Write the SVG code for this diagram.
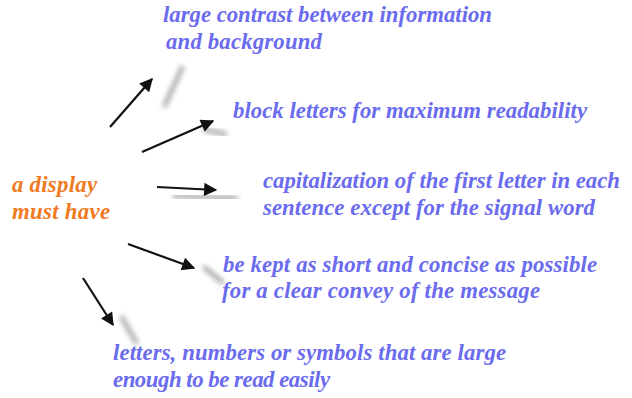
<svg xmlns="http://www.w3.org/2000/svg" width="632" height="398" viewBox="0 0 632 398">
<style>
.t{font-family:"Liberation Serif","Times New Roman",serif;font-weight:bold;font-style:italic;font-size:22.8px;fill:#6b6bee}
.o{font-family:"Liberation Serif","Times New Roman",serif;font-weight:bold;font-style:italic;font-size:22.8px;fill:#f07a22}
.a{stroke:#111;stroke-width:2.2;fill:none;marker-end:url(#ah)}
.s{stroke:#9a9a9a;stroke-width:5;fill:none;stroke-linecap:round;filter:url(#bl);opacity:0.8}
</style>
<defs>
<marker id="ah" viewBox="0 0 10 10" refX="9" refY="5" markerWidth="6.5" markerHeight="6" orient="auto" markerUnits="strokeWidth">
<path d="M0,0 L10,5 L0,10 Z" fill="#111"/>
</marker>
<filter id="bl" x="-50%" y="-50%" width="200%" height="200%"><feGaussianBlur stdDeviation="2.5"/></filter>
</defs>
<rect width="632" height="398" fill="#fff"/>
<g id="shadows">
<path class="s" d="M165,105 L182,68"/>
<path class="s" d="M205,130 L225,134"/>
<path class="s" d="M175,196 L236,198"/>
<path class="s" d="M205,268 L222,282"/>
<path class="s" d="M122,318 L136,342"/>
</g>
<g id="connectors">
<path class="a" d="M110,127 L152,79"/>
<path class="a" d="M142,152 L213,121"/>
<path class="a" d="M157,187 L216,190"/>
<path class="a" d="M128,244 L194,268"/>
<path class="a" d="M83,278 L113,325"/>
</g>
<g id="source"><text class="o" x="12" y="192" textLength="85">a display</text><text class="o" x="12" y="219" textLength="98">must have</text></g>
<g id="n1"><text class="t" x="163" y="22" textLength="329">large contrast between information</text><text class="t" x="166" y="49" textLength="156">and background</text></g>
<g id="n2"><text class="t" x="233" y="118" textLength="354">block letters for maximum readability</text></g>
<g id="n3"><text class="t" x="263" y="188" textLength="357">capitalization of the first letter in each</text><text class="t" x="263" y="215" textLength="332">sentence except for the signal word</text></g>
<g id="n4"><text class="t" x="223" y="272" textLength="374">be kept as short and concise as possible</text><text class="t" x="222" y="298" textLength="318">for a clear convey of the message</text></g>
<g id="n5"><text class="t" x="113" y="360" textLength="393">letters, numbers or symbols that are large</text><text class="t" x="113" y="387" textLength="217">enough to be read easily</text></g>
</svg>
